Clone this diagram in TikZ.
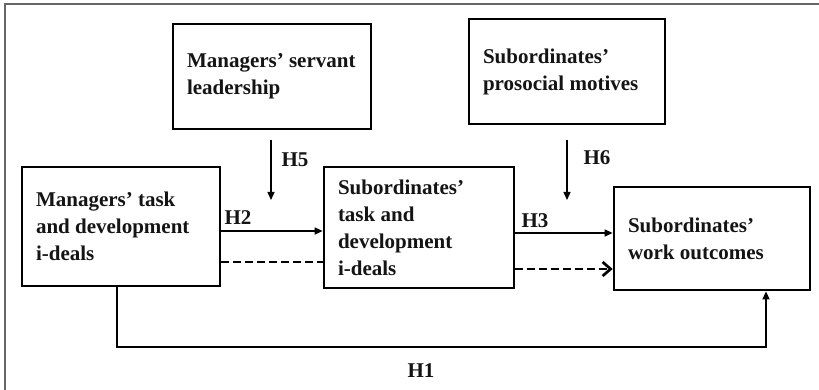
\documentclass[tikz,border=0pt]{standalone}
\usepackage{fontspec}
\setmainfont{Liberation Serif}
\usetikzlibrary{arrows.meta,calc}
\tikzset{
  vbox/.style={draw=black, line width=2.7pt, inner xsep=14pt, inner ysep=0pt,
    align=flush left, font=\fontsize{21}{27}\selectfont\bfseries, text=black!92},
  hlab/.style={font=\fontsize{21}{27}\selectfont\bfseries, text=black!92, inner sep=0pt},
  solidarrow/.style={draw=black, line width=1.4pt, -{Triangle[length=8pt,width=7pt]}},
  dashline/.style={draw=black, line width=2.7pt, dash pattern=on 8pt off 4pt},
  dasharrow/.style={dashline, -{Straight Barb[length=8pt,width=14pt,line width=2.7pt]}},
  frameline/.style={draw=black!60, line width=1.3pt}
}
\begin{document}
\begin{tikzpicture}[x=1pt,y=-1pt]
\useasboundingbox (0,0) rectangle (819,390);
\draw[frameline] (5,395) -- (5,4) -- (825,4);

\node[vbox, text width=170pt, minimum height=105pt] (servant) at (272,76.5)
  {Managers’ servant\\leadership};
\node[vbox, text width=168pt, minimum height=105pt] (prosocial) at (567,71.5)
  {Subordinates’\\prosocial motives};
\node[vbox, text width=170pt, minimum height=119pt] (mtask) at (121,226.5)
  {Managers’ task\\and development\\i-deals};
\node[vbox, text width=162pt, minimum height=121pt] (stask) at (419,227.5)
  {Subordinates’\\task and\\development\\i-deals};
\node[vbox, text width=168pt, minimum height=103pt] (outcomes) at (712,238.5)
  {Subordinates’\\work outcomes};

\coordinate (h5s) at (271,140);
\coordinate (h5e) at (271,200);
\coordinate (h6s) at (567,140);
\coordinate (h6e) at (567,200);
\coordinate (h2y) at (0,231);
\coordinate (d1y) at (0,262);
\coordinate (h3y) at (0,233);
\coordinate (d2y) at (0,269);
\coordinate (h1l) at (117,347);
\coordinate (h1r) at (766,347);

\draw[solidarrow] (h5s) -- (h5e);
\draw[solidarrow] (h6s) -- (h6e);
\draw[solidarrow] (mtask.east |- h2y) -- (stask.west |- h2y);
\draw[dashline] (mtask.east |- d1y) -- (stask.west |- d1y);
\draw[solidarrow] (stask.east |- h3y) -- (outcomes.west |- h3y);
\draw[dasharrow] (stask.east |- d2y) -- (outcomes.west |- d2y);
\draw[solidarrow] (mtask.south -| h1l) -- (h1l) -- (h1r) -- (outcomes.south -| h1r);

\node[hlab] (l5) at (295,160) {H5};
\node[hlab] (l6) at (597,158) {H6};
\node[hlab] (l2) at (238,218) {H2};
\node[hlab] (l3) at (535,221) {H3};
\node[hlab] (l1) at (421,371) {H1};
\end{tikzpicture}
\end{document}
